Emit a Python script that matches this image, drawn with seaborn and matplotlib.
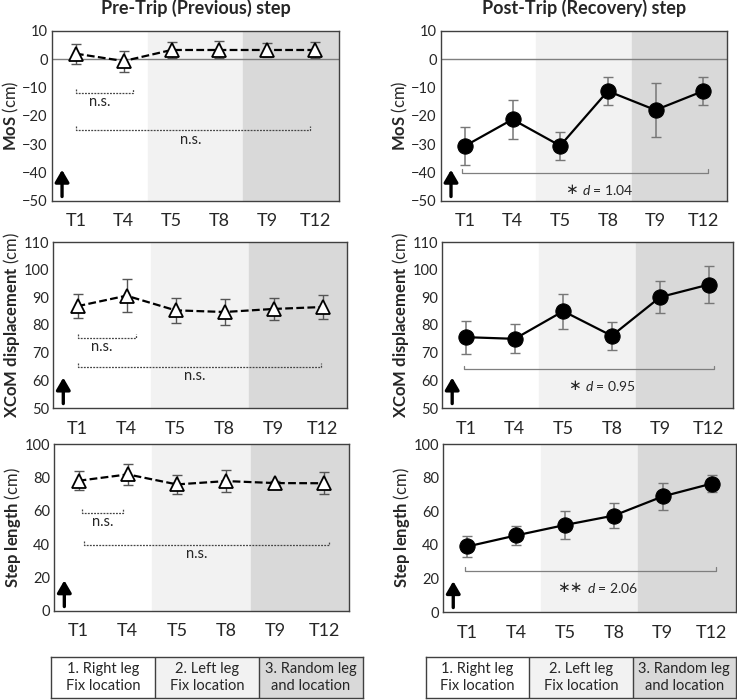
import matplotlib
matplotlib.use("Agg")
import matplotlib.pyplot as plt
import seaborn as sns
import pandas as pd

# data
times = ["T1", "T4", "T5", "T8", "T9", "T12"]

mos_pre = [2.0, -0.6, 3.3, 3.3, 3.3, 3.3]
mos_pre_err = [3.5, 3.7, 2.8, 3.0, 2.6, 2.8]
mos_post = [-30.6, -21.2, -30.5, -11.2, -17.9, -11.2]
mos_post_err = [6.8, 7.0, 5.0, 5.0, 9.5, 5.0]

xcom_pre = [86.8, 90.6, 85.3, 84.7, 85.8, 86.5]
xcom_pre_err = [4.4, 6.0, 4.4, 4.6, 4.0, 4.2]
xcom_post = [75.6, 75.0, 85.0, 76.1, 90.1, 94.6]
xcom_post_err = [6.0, 5.2, 6.3, 5.0, 5.7, 6.7]

step_pre = [78.0, 81.8, 75.8, 77.8, 76.6, 76.5]
step_pre_err = [5.8, 6.2, 5.6, 6.7, 1.2, 6.5]
step_post = [39.0, 45.6, 51.8, 57.4, 68.8, 76.4]
step_post_err = [6.2, 5.7, 8.2, 7.2, 7.8, 5.0]

row_labels = [r"$\mathbf{MoS}$ (cm)", r"$\mathbf{XCoM\ displacement}$ (cm)", r"$\mathbf{Step\ length}$ (cm)"]
row_ylims = [(-50, 10), (50, 110), (0, 100)]
row_yticks = [range(-50, 11, 10), range(50, 111, 10), range(0, 101, 20)]

# brackets: pre (short y, long y), post (y) and effect sizes
pre_short_y = [-11.8, 75.4, 58.5]
pre_long_y = [-25.0, 64.8, 39.5]
post_y = [-40.0, 64.0, 24.5]
post_stars = ["\u2217", "\u2217", "\u2217\u2217"]
post_d = [r"$d$ = 1.04", r"$d$ = 0.95", r"$d$ = 2.06"]

block_labels = ["1. Right leg\nFix location", "2. Left leg\nFix location", "3. Random leg\nand location"]
block_colors = ["white", "#f2f2f2", "#d9d9d9"]

sns.set_theme(style="white")
plt.rcParams["font.family"] = ["Lato", "DejaVu Sans"]
plt.rcParams["mathtext.fontset"] = "custom"
plt.rcParams["mathtext.rm"] = "Lato"
plt.rcParams["mathtext.it"] = "Lato:italic"
plt.rcParams["mathtext.bf"] = "Lato:bold"

W, H = 737, 700
fig = plt.figure(figsize=(W / 100, H / 100), dpi=100)

def box(l, t, r, b):
    return [l / W, 1 - b / H, (r - l) / W, (b - t) / H]

pos_left = [box(52, 31, 339, 201), box(53, 242, 347, 408), box(54, 444, 349, 611)]
pos_right = [box(441, 31, 727, 201), box(442, 242, 733, 408), box(443, 444, 736, 612)]

pre_data = [(mos_pre, mos_pre_err), (xcom_pre, xcom_pre_err), (step_pre, step_pre_err)]
post_data = [(mos_post, mos_post_err), (xcom_post, xcom_post_err), (step_post, step_post_err)]

def base(ax, r):
    ax.set_xlim(-0.5, 5.5)
    ax.set_ylim(*row_ylims[r])
    ax.axvspan(1.5, 3.5, color=block_colors[1], zorder=0)
    ax.axvspan(3.5, 5.5, color=block_colors[2], zorder=0)
    if r == 0:
        ax.axhline(0, color="#7f7f7f", lw=1.0, zorder=1)
    ax.set_xticks(range(len(times)))
    ax.set_xticklabels(times, fontsize=13)
    ax.set_yticks(list(row_yticks[r]))
    ax.tick_params(axis="y", length=0, pad=3, labelsize=10.5, colors="#262626")
    ax.tick_params(axis="x", length=0, pad=9, colors="#262626")
    for s in ax.spines.values():
        s.set_color("#404040")
        s.set_linewidth(1.0)
    lo, hi = row_ylims[r]
    ax.annotate("", xy=(-0.29, lo + 0.2 * (hi - lo)), xytext=(-0.29, lo + 0.01 * (hi - lo)),
                arrowprops=dict(arrowstyle="-|>,head_width=0.35,head_length=0.6", lw=2.4, color="black"))

def finish(ax, r):
    ax.set_xlabel("")
    ax.set_ylabel(row_labels[r], fontsize=12, labelpad=1)

def bracket(ax, x0, x1, y, r, ls, col, tick=0.025):
    lo, hi = row_ylims[r]
    dy = tick * (hi - lo)
    ax.plot([x0, x0, x1, x1], [y + dy, y, y, y + dy], ls=ls, color=col, lw=0.9, zorder=2)

for r in range(3):
    lo, hi = row_ylims[r]
    # pre-trip
    ax = fig.add_axes(pos_left[r])
    base(ax, r)
    m, e = pre_data[r]
    df = pd.DataFrame({"x": range(len(times)), "y": m})
    ax.errorbar(df.x, df.y, yerr=e, fmt="none", ecolor="#555555", elinewidth=1.0, capsize=3.5, zorder=3)
    sns.lineplot(data=df, x="x", y="y", ax=ax, color="black", lw=1.6, zorder=4,
                 marker="^", markersize=10, markerfacecolor="white", markeredgecolor="black",
                 markeredgewidth=1.3, linestyle=(0, (3.5, 1.5)))
    finish(ax, r)
    s_start, s_end = [(0.0, 1.2), (0.0, 1.2), (0.07, 0.9)][r]
    l_start, l_end = [(0.0, 4.9), (0.0, 4.97), (0.1, 5.1)][r]
    bracket(ax, s_start, s_end, pre_short_y[r], r, (0, (1.5, 1.0)), "#444444")
    bracket(ax, l_start, l_end, pre_long_y[r], r, (0, (1.5, 1.0)), "#444444")
    ax.text(0.5, pre_short_y[r] - 0.055 * (hi - lo), "n.s.", ha="center", va="center", fontsize=10.5, color="#262626")
    ax.text(2.4, pre_long_y[r] - 0.055 * (hi - lo), "n.s.", ha="center", va="center", fontsize=10.5, color="#262626")
    if r == 0:
        ax.set_title("Pre-Trip (Previous) step", fontsize=13, fontweight="bold", pad=12)

    # post-trip
    ax = fig.add_axes(pos_right[r])
    base(ax, r)
    m, e = post_data[r]
    df = pd.DataFrame({"x": range(len(times)), "y": m})
    ax.errorbar(df.x, df.y, yerr=e, fmt="none", ecolor="#777777", elinewidth=1.1, capsize=3.5, zorder=3)
    sns.lineplot(data=df, x="x", y="y", ax=ax, color="black", lw=1.6, zorder=4,
                 marker="o", markersize=11, markerfacecolor="black", markeredgecolor="black")
    finish(ax, r)
    bracket(ax, -0.05, 5.1, post_y[r], r, "-", "#7f7f7f", tick=0.02)
    ty = post_y[r] - 0.1 * (hi - lo)
    ax.annotate(post_stars[r], (2.45, ty), xytext=(-3, 0), textcoords="offset points",
                ha="right", va="center", fontsize=11, color="#262626", family=["DejaVu Sans"])
    ax.annotate(post_d[r], (2.45, ty), ha="left", va="center", fontsize=10, color="#262626")
    if r == 0:
        ax.set_title("Post-Trip (Recovery) step", fontsize=13, fontweight="bold", pad=12)

# condition boxes under each column
for l, rgt in [(51, 363), (426, 736)]:
    bx = fig.add_axes(box(l, 657, rgt, 698))
    bx.set_xlim(0, 3)
    bx.set_ylim(0, 1)
    for i, (lab, c) in enumerate(zip(block_labels, block_colors)):
        bx.axvspan(i, i + 1, color=c, zorder=0)
        if i > 0:
            bx.axvline(i, color="#404040", lw=1.0)
        bx.text(i + 0.5, 0.5, lab, ha="center", va="center", fontsize=10.5, color="#262626", linespacing=1.3)
    bx.set_xticks([])
    bx.set_yticks([])
    for s in bx.spines.values():
        s.set_color("#404040")
        s.set_linewidth(1.0)

fig.savefig("out.png", dpi=100)
